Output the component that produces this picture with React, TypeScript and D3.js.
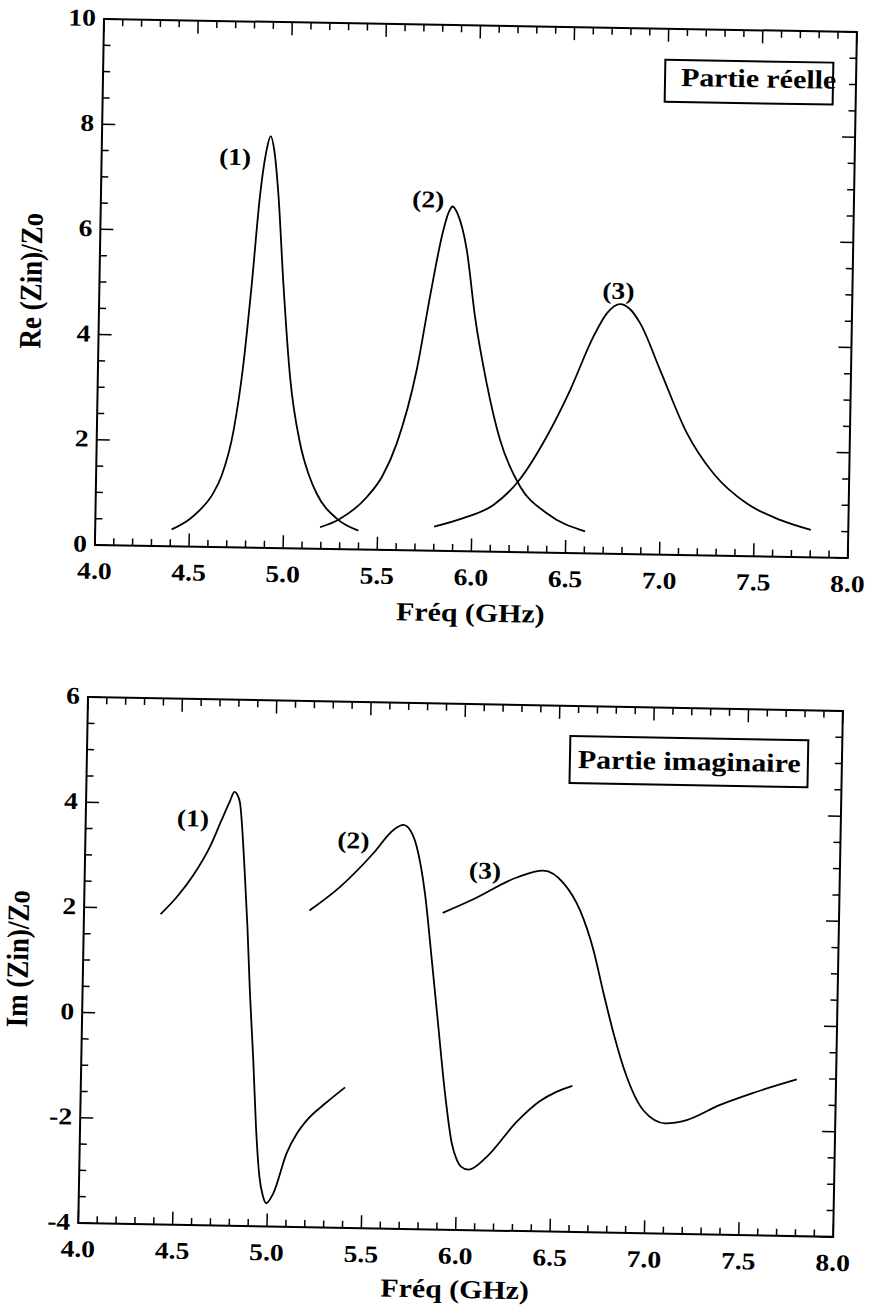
import React from "react";
import * as d3 from "d3";

const FONT = "'Liberation Serif','Times New Roman',serif";
const SX = 1.15;

// ---------- data ----------
const xTickValues = [4.0, 4.5, 5.0, 5.5, 6.0, 6.5, 7.0, 7.5, 8.0];
const xTickLabels = ["4.0", "4.5", "5.0", "5.5", "6.0", "6.5", "7.0", "7.5", "8.0"];
const reTickValues = [0, 2, 4, 6, 8, 10];
const imTickValues = [-4, -2, 0, 2, 4, 6];

// Partie réelle
const re1Freq = [4.406, 4.50, 4.555, 4.62, 4.667, 4.725, 4.771, 4.809, 4.845, 4.875, 4.896, 4.917, 4.942, 4.977, 5.021, 5.080, 5.13, 5.173, 5.282, 5.398];
const re1Val = [0.32, 0.52, 0.70, 1.00, 1.36, 2.20, 3.45, 5.00, 6.70, 7.55, 7.83, 7.55, 6.74, 5.03, 3.26, 2.00, 1.40, 1.05, 0.58, 0.36];
const re2Freq = [5.194, 5.291, 5.440, 5.520, 5.594, 5.693, 5.757, 5.822, 5.850, 5.869, 5.895, 5.948, 5.998, 6.066, 6.142, 6.253, 6.397, 6.602];
const re2Val = [0.41, 0.56, 1.00, 1.40, 2.03, 3.43, 4.83, 6.10, 6.45, 6.55, 6.42, 5.73, 4.46, 3.20, 2.13, 1.25, 0.75, 0.42];
const re3Freq = [5.800, 5.954, 6.113, 6.243, 6.390, 6.510, 6.628, 6.700, 6.768, 6.820, 6.876, 6.986, 7.134, 7.279, 7.459, 7.637, 7.801];
const re3Val = [0.46, 0.63, 0.89, 1.35, 2.21, 3.10, 4.12, 4.58, 4.75, 4.66, 4.39, 3.51, 2.32, 1.56, 1.00, 0.70, 0.52];

// Partie imaginaire
const im1Freq = [4.406, 4.490, 4.575, 4.661, 4.720, 4.760, 4.785, 4.800, 4.816, 4.849, 4.867, 4.887, 4.911, 4.932, 4.955, 4.975, 4.993, 5.030, 5.097, 5.150, 5.200, 5.304, 5.400];
const im1Val = [1.90, 2.23, 2.65, 3.20, 3.71, 4.05, 4.25, 4.20, 4.03, 2.64, 1.69, 0.42, -0.84, -2.11, -3.06, -3.42, -3.56, -3.37, -2.60, -2.22, -1.97, -1.62, -1.33];
const im2Freq = [5.194, 5.354, 5.527, 5.631, 5.683, 5.720, 5.756, 5.804, 5.847, 5.888, 5.930, 5.971, 5.999, 6.020, 6.061, 6.157, 6.313, 6.434, 6.520, 6.604];
const im2Val = [2.02, 2.48, 3.13, 3.58, 3.68, 3.58, 3.27, 2.39, 1.12, -0.14, -1.41, -2.36, -2.67, -2.79, -2.85, -2.60, -1.92, -1.52, -1.34, -1.22];
const im3Freq = [5.900, 6.061, 6.289, 6.429, 6.537, 6.627, 6.702, 6.760, 6.817, 6.891, 6.982, 7.099, 7.213, 7.388, 7.563, 7.792];
const im3Val = [2.02, 2.29, 2.72, 2.86, 2.63, 2.12, 1.37, 0.55, -0.21, -1.03, -1.66, -1.90, -1.83, -1.53, -1.29, -1.02];

const curveLabels = ["(1)", "(2)", "(3)"];
const reLabelFreq = [4.709, 5.739, 6.757];
const reLabelVal = [7.42, 6.68, 5.0];
const imLabelFreq = [4.568, 5.42, 6.12];
const imLabelVal = [3.73, 3.37, 2.84];

type Pt = [number, number];
const zip = (f: number[], v: number[]): Pt[] => f.map((d, i) => [d, v[i]]);

function T(props: {
  x: number; y: number; size: number; anchor?: string; vertical?: boolean; children: React.ReactNode;
}) {
  const { x, y, size, anchor = "start", vertical, children } = props;
  const tr = vertical
    ? `translate(${x},${y}) rotate(-90) scale(1,${SX})`
    : `translate(${x},${y}) scale(${SX},1)`;
  return (
    <text transform={tr} fontSize={size} textAnchor={anchor} fontFamily={FONT} fontWeight="bold" fill="#000">
      {children}
    </text>
  );
}

function Panel(props: {
  ox: number; oy: number; angle: number; W: number; H: number;
  yDomain: [number, number]; yTicks: number[];
  series: Pt[][]; labelF: number[]; labelV: number[];
  legend: string; box: [number, number, number, number]; legendX: number; legendY: number;
  yTitle: string; yTitleX: number; xTitleY: number;
}) {
  const { ox, oy, angle, W, H, yDomain, yTicks, series, labelF, labelV, legend, box, legendX, legendY, yTitle, yTitleX, xTitleY } = props;
  const x = d3.scaleLinear().domain([4, 8]).range([0, W]);
  const y = d3.scaleLinear().domain(yDomain).range([H, 0]);
  const line = d3.line<Pt>().x((d) => x(d[0])).y((d) => y(d[1])).curve(d3.curveMonotoneX);
  const xMinor = d3.range(40, 81).map((v) => v / 10);
  const yMinor = d3.range(yDomain[0] * 2, yDomain[1] * 2 + 1).map((v) => v / 2);
  const MAJ = 13, MIN = 7;
  return (
    <g transform={`translate(${ox},${oy}) rotate(${angle})`}>
      <rect x={0} y={0} width={W} height={H} fill="none" stroke="#000" strokeWidth={2} />
      {xMinor.map((v, i) => {
        const len = i % 5 === 0 ? MAJ : MIN;
        const px = x(v);
        return (
          <g key={"xt" + i} stroke="#000" strokeWidth={1.5}>
            <line x1={px} x2={px} y1={H} y2={H - len} />
            <line x1={px} x2={px} y1={0} y2={len} />
          </g>
        );
      })}
      {yMinor.map((v, i) => {
        const len = v % 2 === 0 ? MAJ : MIN;
        const py = y(v);
        return (
          <g key={"yt" + i} stroke="#000" strokeWidth={1.5}>
            <line x1={0} x2={len} y1={py} y2={py} />
            <line x1={W} x2={W - len} y1={py} y2={py} />
          </g>
        );
      })}
      {xTickValues.map((v, i) => (
        <T key={"xl" + i} x={x(v)} y={H + 34} size={24} anchor="middle">{xTickLabels[i]}</T>
      ))}
      {yTicks.map((v, i) => (
        <T key={"yl" + i} x={-8} y={y(v) + 7} size={24} anchor="end">{String(v)}</T>
      ))}
      {series.map((s, i) => (
        <path key={"s" + i} d={line(s) || ""} fill="none" stroke="#000" strokeWidth={1.8} />
      ))}
      {curveLabels.map((t, i) => (
        <T key={"cl" + i} x={x(labelF[i])} y={y(labelV[i]) + 8} size={24} anchor="middle">{t}</T>
      ))}
      <rect x={box[0]} y={box[1]} width={box[2]} height={box[3]} fill="#fff" stroke="#000" strokeWidth={2} />
      <T x={legendX} y={legendY} size={26}>{legend}</T>
      <T x={W / 2} y={H + xTitleY} size={26} anchor="middle">Fréq (GHz)</T>
      <T x={yTitleX} y={H / 2} size={27} anchor="middle" vertical>{yTitle}</T>
    </g>
  );
}

export default function App() {
  return (
    <svg width={872} height={1313} style={{ position: "absolute", left: 0, top: 0, background: "#fff" }}>
      <rect x={0} y={0} width={872} height={1313} fill="#fff" />
      <Panel
        ox={104} oy={19} angle={0.99} W={753} H={526}
        yDomain={[0, 10]} yTicks={reTickValues}
        series={[zip(re1Freq, re1Val), zip(re2Freq, re2Val), zip(re3Freq, re3Val)]}
        labelF={reLabelFreq} labelV={reLabelVal}
        legend="Partie réelle" box={[562, 31, 168, 42]} legendX={578} legendY={57}
        yTitle="Re (Zin)/Zo" yTitleX={-58} xTitleY={70}
      />
      <Panel
        ox={88} oy={697} angle={1.06} W={755} H={526}
        yDomain={[-4, 6]} yTicks={imTickValues}
        series={[zip(im1Freq, im1Val), zip(im2Freq, im2Val), zip(im3Freq, im3Val)]}
        labelF={imLabelFreq} labelV={imLabelVal}
        legend="Partie imaginaire" box={[483, 30, 238, 47]} legendX={491} legendY={62}
        yTitle="Im (Zin)/Zo" yTitleX={-55} xTitleY={68}
      />
    </svg>
  );
}
